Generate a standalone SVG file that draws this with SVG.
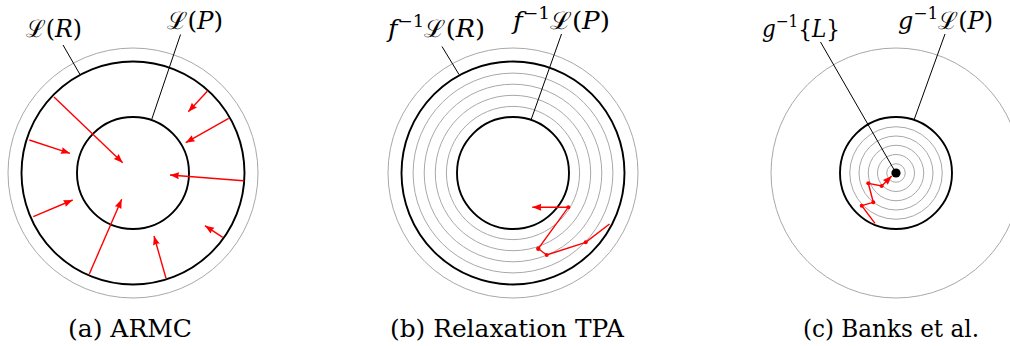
<svg xmlns="http://www.w3.org/2000/svg" width="1010" height="346" viewBox="0 0 1010 346">
<style>
.bk{fill:none;stroke:#000;stroke-width:1.9}
.gr{fill:none;stroke:#a8a8a8;stroke-width:1}
.ld{fill:none;stroke:#000;stroke-width:1}
.rd{fill:none;stroke:#ff0000;stroke-width:1.4}
.dot{fill:#ff0000}
.it{font-style:italic}
.tx{font-family:'DejaVu Serif',serif;font-size:24px;fill:#000}
</style>
<defs>
<marker id="ah" markerUnits="userSpaceOnUse" markerWidth="12" markerHeight="10" refX="9" refY="3.5" orient="auto" overflow="visible">
<path d="M0,0 L9,3.5 L0,7 Q1.5,3.5 0,0 Z" fill="#ff0000"/>
</marker>
</defs>
<rect width="1010" height="346" fill="#fff"/>

<g id="panel-a">
<circle class="gr" cx="133" cy="173" r="125"/>
<circle class="bk" cx="133" cy="173" r="111.5"/>
<circle class="bk" cx="133" cy="173" r="56"/>
</g>
<g id="label-a-R" class="tx">
<text x="26" y="37" textLength="56" lengthAdjust="spacingAndGlyphs">ℒ(<tspan class="it">R</tspan>)</text></g>
<g id="label-a-P" class="tx">
<text x="167" y="29" textLength="56" lengthAdjust="spacingAndGlyphs">ℒ(<tspan class="it">P</tspan>)</text></g>

<g id="panel-b">
<circle class="gr" cx="513" cy="173" r="125"/>
<circle class="gr" cx="513" cy="173" r="99.9"/>
<circle class="gr" cx="513" cy="173" r="88.8"/>
<circle class="gr" cx="513" cy="173" r="77.7"/>
<circle class="gr" cx="513" cy="173" r="66.6"/>
<circle class="bk" cx="513" cy="173" r="111.5"/>
<circle class="bk" cx="513" cy="173" r="56"/>
</g>
<g id="label-b-R" class="tx">
<text x="388" y="37" textLength="97" lengthAdjust="spacingAndGlyphs"><tspan class="it">f</tspan><tspan font-size="17" dy="-10">−1</tspan><tspan dy="10">ℒ(</tspan><tspan class="it">R</tspan>)</text></g>
<g id="label-b-P" class="tx">
<text x="513" y="29" textLength="97" lengthAdjust="spacingAndGlyphs"><tspan class="it">f</tspan><tspan font-size="17" dy="-10">−1</tspan><tspan dy="10">ℒ(</tspan><tspan class="it">P</tspan>)</text></g>

<g id="panel-c">
<circle class="gr" cx="896" cy="173" r="125"/>
<circle class="gr" cx="896" cy="173" r="46.25"/>
<circle class="gr" cx="896" cy="173" r="37"/>
<circle class="gr" cx="896" cy="173" r="27.75"/>
<circle class="gr" cx="896" cy="173" r="18.5"/>
<circle class="gr" cx="896" cy="173" r="9.25"/>
<circle class="bk" cx="896" cy="173" r="56"/>
<circle cx="896" cy="173" r="4.6" fill="#000"/>
</g>
<g id="label-c-L" class="tx">
<text x="762" y="37" textLength="78" lengthAdjust="spacingAndGlyphs"><tspan class="it">g</tspan><tspan font-size="17" dy="-10">−1</tspan><tspan dy="10">{</tspan><tspan class="it">L</tspan>}</text></g>
<g id="label-c-P" class="tx">
<text x="898" y="29" textLength="95" lengthAdjust="spacingAndGlyphs"><tspan class="it">g</tspan><tspan font-size="17" dy="-10">−1</tspan><tspan dy="10">ℒ(</tspan><tspan class="it">P</tspan>)</text></g>

<g id="connectors">
<line class="ld" x1="63" y1="45" x2="80" y2="74.5"/>
<line class="ld" x1="180.5" y1="34.5" x2="151.5" y2="120"/>
<line class="ld" x1="442" y1="46.5" x2="459" y2="74.5"/>
<line class="ld" x1="561.5" y1="34" x2="531" y2="120"/>
<line class="ld" x1="820.5" y1="42" x2="894.5" y2="170.5"/>
<line class="ld" x1="945" y1="34" x2="914" y2="120"/>

<line class="rd" marker-end="url(#ah)" x1="54" y1="97" x2="122.7" y2="162.7"/>
<line class="rd" marker-end="url(#ah)" x1="29.3" y1="140" x2="70" y2="153.3"/>
<line class="rd" marker-end="url(#ah)" x1="33.3" y1="216.7" x2="72.7" y2="200"/>
<line class="rd" marker-end="url(#ah)" x1="89.3" y1="274" x2="121.7" y2="199.3"/>
<line class="rd" marker-end="url(#ah)" x1="166" y1="278.3" x2="154" y2="236"/>
<line class="rd" marker-end="url(#ah)" x1="222.7" y1="237.3" x2="205" y2="225.7"/>
<line class="rd" marker-end="url(#ah)" x1="243.3" y1="180.7" x2="170" y2="175"/>
<line class="rd" marker-end="url(#ah)" x1="228.7" y1="118.3" x2="185.7" y2="142.7"/>
<line class="rd" marker-end="url(#ah)" x1="207.3" y1="91.3" x2="188.3" y2="111.7"/>

<polyline class="rd" marker-end="url(#ah)" points="609.5,224 585.7,242.3 546.7,255 538.3,248.7 568.3,207.3 532.3,207.3"/>
<circle class="dot" cx="585.7" cy="242.3" r="2"/>
<circle class="dot" cx="546.7" cy="255" r="2"/>
<circle class="dot" cx="538.3" cy="248.7" r="2.2"/>
<circle class="dot" cx="568.3" cy="207.3" r="2"/>

<polyline class="rd" marker-end="url(#ah)" points="875,223.3 861.7,205.7 873.3,202.3 868.3,183.3 881.7,186 891.7,176"/>
<circle class="dot" cx="861.7" cy="205.7" r="2"/>
<circle class="dot" cx="873.3" cy="202.3" r="2"/>
<circle class="dot" cx="868.3" cy="183.3" r="2"/>
<circle class="dot" cx="881.7" cy="186" r="2"/>
</g>

<g id="captions" class="tx" text-anchor="middle">
<text x="130" y="337" textLength="124" lengthAdjust="spacingAndGlyphs">(a) ARMC</text>
<text x="507" y="337" textLength="234" lengthAdjust="spacingAndGlyphs">(b) Relaxation TPA</text>
<text x="891" y="337" textLength="176" lengthAdjust="spacingAndGlyphs">(c) Banks et al.</text>
</g>
</svg>
